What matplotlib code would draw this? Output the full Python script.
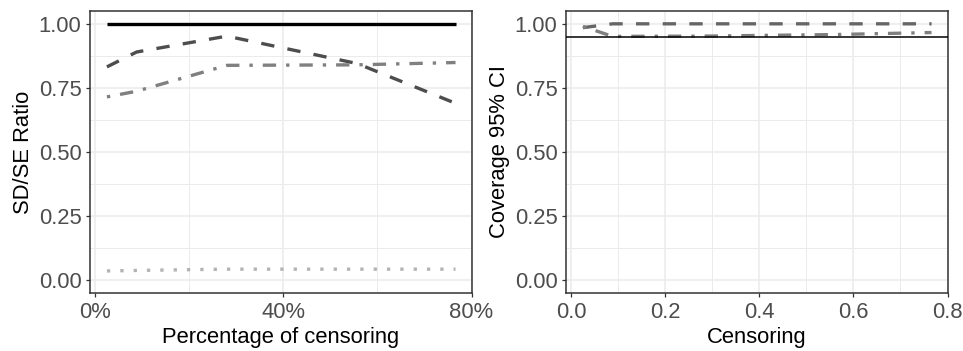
import matplotlib
matplotlib.use("Agg")
import matplotlib.pyplot as plt
import numpy as np

plt.rcParams['font.family'] = ['Liberation Sans', 'DejaVu Sans']

# censoring levels (proportion)
censoring = [0.025, 0.088, 0.28, 0.557, 0.766]

# left panel: SD/SE ratio
ratio_solid = [1.0, 1.0, 1.0, 1.0, 1.0]
ratio_dashed = [0.832, 0.89, 0.952, 0.845, 0.69]
ratio_dotdash = [0.715, 0.737, 0.838, 0.84, 0.849]
ratio_dotted = [0.036, 0.038, 0.043, 0.043, 0.043]

# right panel: coverage of 95% CI
cov_dashed = [0.985, 1.0, 1.0, 1.0, 1.0]
cov_dotdash = [0.99, 0.951, 0.952, 0.958, 0.966]
nominal = 0.95

y_ticks = [0.0, 0.25, 0.5, 0.75, 1.0]
y_ticklabels = ["0.00", "0.25", "0.50", "0.75", "1.00"]
x_ticks_left = [0.0, 0.4, 0.8]
x_ticklabels_left = ["0%", "40%", "80%"]
x_ticks_right = [0.0, 0.2, 0.4, 0.6, 0.8]
x_ticklabels_right = ["0.0", "0.2", "0.4", "0.6", "0.8"]

W, H = 963, 351
fig = plt.figure(figsize=(W / 100, H / 100), dpi=100)

def make_ax(x0, x1, y0, y1):
    return fig.add_axes([x0 / W, (H - y1) / H, (x1 - x0) / W, (y1 - y0) / H])

axL = make_ax(90, 472, 11, 293)
axR = make_ax(566, 948, 11, 293)

FS = 15.8
LW = 2.4

def style(ax, xmajor, xminor, xlabels, xlabel, ylabel):
    ax.set_xlim(-0.011, 0.801)
    ax.set_ylim(-0.05, 1.05)
    ax.set_xticks(xmajor)
    ax.set_xticklabels(xlabels)
    ax.set_xticks(xminor, minor=True)
    ax.set_yticks(y_ticks)
    ax.set_yticklabels(y_ticklabels)
    ax.set_yticks([0.125, 0.375, 0.625, 0.875], minor=True)
    ax.grid(which='major', color='#EBEBEB', linewidth=1.1, zorder=0)
    ax.grid(which='minor', color='#EBEBEB', linewidth=0.7, zorder=0)
    ax.set_axisbelow(True)
    for s in ax.spines.values():
        s.set_color('#333333')
        s.set_linewidth(1.1)
    ax.tick_params(which='major', length=3.2, width=0.9, color='#333333',
                   labelsize=FS, labelcolor='#4D4D4D', pad=3)
    ax.tick_params(which='minor', length=0)
    ax.set_xlabel(xlabel, fontsize=FS, color='black', labelpad=3)
    ax.set_ylabel(ylabel, fontsize=FS, color='black', labelpad=3.5)

style(axL, x_ticks_left, [0.2, 0.6], x_ticklabels_left, "Percentage of censoring", "SD/SE Ratio")
style(axR, x_ticks_right, [0.1, 0.3, 0.5, 0.7], x_ticklabels_right, "Censoring", "Coverage 95% CI")

axL.plot(censoring, ratio_solid, color='black', linewidth=LW, solid_capstyle='butt', zorder=3)
axL.plot(censoring, ratio_dashed, color='#4D4D4D', linewidth=LW, dashes=(4, 4), zorder=3)
axL.plot(censoring, ratio_dotdash, color='#808080', linewidth=LW, dashes=(1, 3, 4, 3), zorder=3)
axL.plot(censoring, ratio_dotted, color='#B3B3B3', linewidth=LW, dashes=(1, 3), zorder=3)

axR.plot(censoring, cov_dashed, color='#666666', linewidth=LW, dashes=(4, 4), zorder=3)
axR.plot(censoring, cov_dotdash, color='#808080', linewidth=LW, dashes=(1, 3, 4, 3), zorder=3)
axR.axhline(nominal, color='black', linewidth=1.1, zorder=4)

fig.savefig("out.png", dpi=100)
